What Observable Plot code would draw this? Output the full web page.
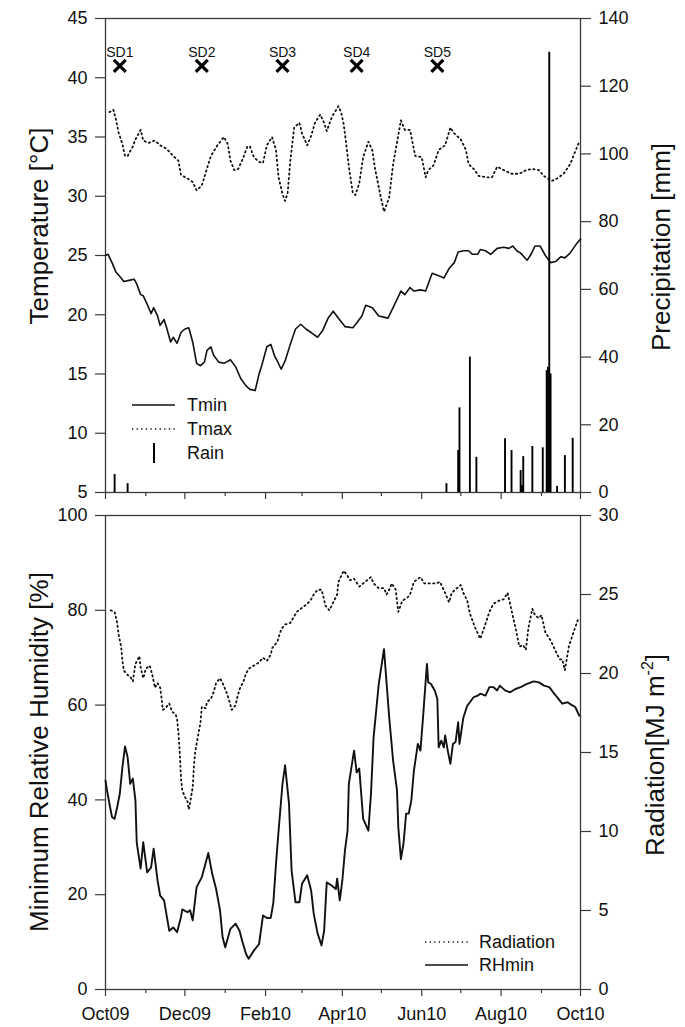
<!DOCTYPE html>
<html><head><meta charset="utf-8">
<script src="https://cdn.jsdelivr.net/npm/d3@7"></script>
<script src="https://cdn.jsdelivr.net/npm/@observablehq/plot@0.6"></script>
<style>
body{margin:0;background:#fff;}
#fig{position:relative;width:685px;height:1027px;background:#fff;}
#fig svg{position:absolute;left:0;}
</style></head><body><div id="fig"></div>
<script>
// ---- data (x = days since 1 Oct 2009) ----
const monthMajor = ["2009-10-01","2009-12-01","2010-02-01","2010-04-01","2010-06-01","2010-08-01","2010-10-01"];
const monthMajorLabels = ["Oct09","Dec09","Feb10","Apr10","Jun10","Aug10","Oct10"];
const monthMinor = ["2009-11-01","2010-01-01","2010-03-01","2010-05-01","2010-07-01","2010-09-01"];
const tempTicks = [5,10,15,20,25,30,35,40,45];
const precipTicks = [0,20,40,60,80,100,120,140];
const rhTicks = [0,20,40,60,80,100];
const radTicks = [0,5,10,15,20,25,30];

const tmax = [[3,37.1],[6,37.3],[8,36.5],[10,35.4],[13,34.4],[15,33.4],[17,33.4],[21,34.2],[23,34.8],[27,35.6],[29,34.7],[33,34.5],[38,34.7],[42,34.3],[47,34.0],[52,33.4],[56,33.0],[58,31.8],[63,31.5],[67,31.2],[70,30.5],[74,30.9],[77,32.0],[81,33.4],[86,34.3],[91,35.0],[94,34.4],[96,33.0],[99,32.2],[102,32.3],[106,33.3],[109,34.2],[111,34.2],[114,33.3],[118,32.9],[121,32.8],[124,34.3],[128,35.0],[131,33.9],[133,31.6],[136,30.2],[138,29.6],[140,30.3],[142,33.0],[145,35.8],[149,36.2],[151,35.3],[155,34.3],[158,35.1],[161,36.2],[165,36.9],[168,36.2],[170,35.5],[174,36.7],[179,37.6],[181,37.1],[183,36.1],[185,34.4],[187,32.5],[190,30.3],[192,30.1],[195,31.1],[198,33.3],[202,34.6],[205,33.9],[207,32.4],[211,30.2],[214,28.7],[218,29.9],[221,32.7],[227,36.4],[230,35.6],[234,35.6],[238,33.4],[243,33.3],[246,31.6],[248,32.2],[252,32.6],[256,33.9],[261,34.3],[265,35.8],[268,35.3],[273,34.8],[277,33.9],[279,32.7],[283,32.3],[287,31.7],[293,31.6],[297,31.6],[301,32.5],[306,32.2],[312,31.9],[318,31.9],[323,32.2],[328,32.3],[333,32.2],[337,31.7],[343,31.3],[347,31.5],[352,31.9],[357,32.7],[364,34.6]];
const tmin = [[0,25.0],[2,25.1],[5,24.4],[8,23.6],[12,23.1],[14,22.8],[18,22.9],[22,23.0],[24,22.6],[27,21.7],[29,21.6],[32,20.9],[35,20.1],[37,20.6],[40,19.9],[42,19.1],[45,19.6],[47,18.9],[50,17.7],[52,18.1],[55,17.6],[58,18.5],[61,18.8],[64,18.9],[67,17.7],[70,15.9],[73,15.7],[76,16.0],[78,17.0],[81,17.3],[83,16.6],[87,16.0],[91,15.9],[96,16.2],[100,15.6],[104,14.6],[108,14.0],[111,13.7],[115,13.6],[118,15.0],[120,15.7],[124,17.3],[127,17.5],[130,16.5],[132,16.1],[135,15.4],[138,16.1],[142,17.5],[146,18.8],[150,19.2],[154,18.8],[158,18.5],[163,18.1],[167,18.7],[171,19.7],[175,20.3],[179,19.7],[184,19.0],[190,18.9],[193,19.3],[197,19.9],[200,20.8],[205,20.6],[210,19.9],[214,19.8],[217,19.7],[221,20.6],[227,22.0],[230,21.7],[234,22.3],[237,22.0],[242,22.1],[246,22.0],[251,23.5],[256,23.3],[260,23.1],[264,23.9],[268,24.4],[271,25.3],[275,25.4],[279,25.4],[282,25.1],[286,25.1],[288,25.5],[292,25.4],[296,25.1],[301,25.6],[306,25.7],[310,25.6],[313,25.8],[316,25.4],[319,25.2],[324,24.6],[327,25.1],[330,25.8],[334,25.8],[338,25.0],[342,24.4],[346,24.5],[350,24.9],[353,24.8],[357,25.2],[362,26.0],[365,26.4]];
const rain = [[7,5.3],[17,2.6],[262,2.6],[271,12.4],[272,25],[280,40],[285,10.4],[307,15.9],[312,12.4],[319,6.5],[320,2],[321,10.6],[328,13.6],[336,13.2],[339,36],[340,37],[341,130],[342,35],[347,1.8],[353,10.9],[359,16]];
const sowing = [["SD1",11],["SD2",74],["SD3",136],["SD4",193],["SD5",255]];
const sowingLevel = 41;
const radiation = [[4,24.0],[7,23.9],[9,23.2],[10,22.5],[12,21.7],[13,20.8],[14,20.2],[17,19.9],[19,19.8],[21,19.5],[23,20.6],[26,21.1],[27,20.4],[29,19.7],[31,20.3],[34,20.5],[36,19.9],[38,19.1],[40,19.4],[42,19.1],[43,18.5],[44,17.7],[46,17.8],[49,18.1],[51,17.6],[54,17.4],[55,17.1],[56,16.3],[57,15.1],[58,13.4],[59,12.6],[61,12.2],[63,11.9],[64,11.4],[65,11.8],[67,12.8],[68,14.2],[69,15.1],[71,16.0],[73,16.9],[74,17.9],[77,17.8],[78,18.2],[81,18.4],[83,18.8],[85,19.4],[88,19.7],[90,19.4],[93,18.8],[95,18.3],[97,17.7],[100,18.0],[101,18.4],[103,19.0],[106,19.5],[108,20.0],[110,20.3],[114,20.5],[118,20.7],[121,21.0],[124,20.8],[127,21.2],[128,21.6],[132,22.0],[135,22.8],[138,23.1],[142,23.2],[147,23.9],[150,24.1],[155,24.4],[158,24.7],[160,25.0],[163,25.3],[166,25.3],[167,25.0],[169,24.3],[172,24.0],[175,24.5],[178,25.0],[179,25.8],[183,26.5],[185,26.3],[188,25.9],[191,26.0],[195,25.5],[198,25.7],[201,25.9],[204,26.1],[206,25.7],[210,25.4],[214,25.4],[216,25.0],[218,25.3],[220,25.7],[223,25.3],[225,23.9],[228,24.6],[232,24.8],[234,25.0],[237,25.8],[242,26.1],[245,25.7],[248,25.7],[254,25.7],[257,25.8],[261,25.1],[264,24.5],[266,25.1],[270,25.4],[273,25.6],[275,25.1],[278,24.6],[280,23.8],[284,22.9],[288,22.2],[291,22.9],[295,23.9],[298,24.4],[302,24.6],[306,24.7],[309,25.1],[312,24.0],[315,22.9],[318,21.7],[321,21.8],[323,21.5],[325,22.9],[328,24.1],[330,23.7],[333,23.5],[335,23.7],[338,22.6],[342,22.1],[346,21.4],[349,20.9],[351,20.9],[353,20.2],[356,21.7],[360,22.7],[363,23.4]];
const rhmin = [[0,44.1],[1,42.3],[3,39.2],[5,36.4],[7,36.0],[9,38.5],[11,41.3],[13,46.9],[15,51.3],[17,49.0],[19,43.4],[21,44.5],[23,39.9],[24,31.0],[27,25.5],[29,31.1],[32,24.7],[35,25.7],[37,29.7],[40,23.0],[42,19.8],[45,18.8],[47,15.6],[49,12.4],[52,13.1],[55,12.1],[58,15.3],[59,16.9],[63,16.3],[65,16.7],[67,14.6],[70,21.6],[74,23.7],[79,28.8],[82,24.4],[85,21.2],[88,16.7],[90,11.0],[92,8.9],[96,12.8],[100,13.9],[103,12.4],[105,10.3],[108,7.5],[110,6.5],[114,8.2],[118,9.6],[121,15.6],[124,15.1],[127,15.1],[129,18.4],[131,26.5],[133,33.5],[136,43.4],[138,47.3],[141,39.2],[143,25.1],[146,18.4],[149,18.4],[151,22.3],[155,24.1],[158,20.9],[160,16.0],[163,11.8],[166,9.3],[168,12.4],[170,22.6],[174,21.9],[177,21.2],[178,23.4],[180,18.8],[182,23.0],[184,29.3],[186,33.5],[187,43.4],[191,50.4],[193,45.8],[195,46.6],[198,36.0],[202,33.5],[204,41.3],[206,53.2],[210,64.5],[214,71.8],[218,57.4],[221,48.3],[224,42.0],[225,34.2],[227,27.5],[229,30.8],[231,37.1],[233,37.1],[235,39.9],[237,46.2],[240,51.8],[242,50.4],[244,57.4],[247,68.7],[248,64.8],[250,64.5],[253,63.1],[255,61.3],[256,51.1],[258,52.5],[260,51.1],[261,53.6],[263,50.4],[265,47.6],[267,51.8],[269,52.2],[271,56.4],[272,51.8],[275,57.4],[278,59.9],[280,60.6],[283,61.7],[286,62.0],[288,62.4],[292,62.0],[295,63.8],[298,63.8],[301,63.1],[303,64.1],[307,63.1],[311,62.7],[315,63.4],[319,63.8],[324,64.5],[329,65.0],[333,64.8],[337,64.1],[341,63.8],[344,62.7],[347,61.7],[351,60.3],[355,60.6],[359,59.9],[361,59.6],[364,57.8]];

// ---- helpers ----
const T0 = Date.UTC(2009, 9, 1);
const toDate = d => new Date(T0 + d * 864e5);
const rows = arr => arr.map(([d, v]) => ({date: toDate(d), value: v}));
const majorDates = monthMajor.map(s => new Date(s + "T00:00:00Z"));
const minorDates = monthMinor.map(s => new Date(s + "T00:00:00Z"));
const labelOf = new Map(majorDates.map((d, i) => [+d, monthMajorLabels[i]]));
const xDomain = [toDate(0), toDate(365)];

const FONT = "'Liberation Sans', Arial, Helvetica, sans-serif";
const AX = "#3a3a3a", INK = "#111";
const W = 685, ML = 105, MR = 105;
const DOT = "1.3,3.3";

function xAxes(labels) {
  return [
    Plot.axisX(minorDates, {tickSize: 4, tickFormat: () => "", color: AX, strokeWidth: 1.2}),
    Plot.axisX(majorDates, {tickSize: 7, tickPadding: 11, fontSize: 18,
      tickFormat: labels ? d => labelOf.get(+d) : () => "", color: INK, stroke: AX, strokeWidth: 1.2})
  ];
}
function base(h, mt, mb, ydom) {
  return {width: W, height: h, marginLeft: ML, marginRight: MR, marginTop: mt, marginBottom: mb,
    style: {fontFamily: FONT, fontSize: "18px", background: "transparent", color: INK, overflow: "visible"},
    x: {type: "utc", domain: xDomain, axis: null}, y: {domain: ydom, axis: null}};
}
const yAxis = (ticks, anchor) => Plot.axisY(ticks, {anchor, tickSize: 10, tickPadding: 8, fontSize: 18,
  label: null, color: INK, stroke: AX, strokeWidth: 1.2});

// ---- top panel ----
const topA = Plot.plot({...base(500, 18, 8, [5, 45]), marks: [
  Plot.frame({stroke: AX, strokeWidth: 1.3}),
  yAxis(tempTicks, "left"),
  ...xAxes(false),
  Plot.line(rows(tmax), {x: "date", y: "value", stroke: INK, strokeWidth: 1.8, strokeDasharray: DOT}),
  Plot.line(rows(tmin), {x: "date", y: "value", stroke: INK, strokeWidth: 1.6}),
  Plot.dot(sowing, {x: d => toDate(d[1]), y: () => sowingLevel, symbol: "times", r: 5.5, stroke: "#000", strokeWidth: 3.2}),
  Plot.text(sowing, {x: d => toDate(d[1]), y: () => sowingLevel, text: d => d[0], dy: -13, fontSize: 14, fill: INK})
]});
const topB = Plot.plot({...base(500, 18, 8, [0, 140]), marks: [
  yAxis(precipTicks, "right"),
  Plot.ruleX(rows(rain), {x: "date", y1: 0, y2: "value", stroke: "#000", strokeWidth: 1.9})
]});

// ---- bottom panel ----
const botA = Plot.plot({...base(527, 15, 38, [0, 100]), marks: [
  Plot.frame({stroke: AX, strokeWidth: 1.3}),
  yAxis(rhTicks, "left"),
  ...xAxes(true),
  Plot.line(rows(rhmin), {x: "date", y: "value", stroke: INK, strokeWidth: 1.9})
]});
const botB = Plot.plot({...base(527, 15, 38, [0, 30]), marks: [
  yAxis(radTicks, "right"),
  Plot.line(rows(radiation), {x: "date", y: "value", stroke: INK, strokeWidth: 1.8, strokeDasharray: DOT})
]});

const fig = document.getElementById("fig");
[[topA, 0], [topB, 0], [botA, 500], [botB, 500]].forEach(([s, t]) => { s.style.top = t + "px"; fig.appendChild(s); });

// ---- axis titles ----
function title(svg, x, y, parts) {
  const t = d3.select(svg).append("text")
    .attr("transform", `translate(${x},${y}) rotate(-90)`)
    .attr("text-anchor", "middle").attr("font-size", 26).attr("fill", INK).attr("font-family", FONT);
  parts.forEach(p => {
    const s = t.append("tspan").text(p.t);
    if (p.sup) s.attr("font-size", 16).attr("dy", -11);
    if (p.down) s.attr("dy", 11);
  });
}
title(topB, 48, 226, [{t: "Temperature [°C]"}]);
title(topB, 670, 247, [{t: "Precipitation [mm]"}]);
title(botB, 48, 252, [{t: "Minimum Relative Humidity [%]"}]);
title(botB, 664, 255, [{t: "Radiation[MJ m"}, {t: "-2", sup: true}, {t: "]", down: true}]);

// ---- legends ----
function legend(svg, items) {
  const g = d3.select(svg).append("g").attr("font-family", FONT).attr("font-size", 18)
    .attr("fill", INK).attr("text-anchor", "start");
  items.forEach(it => {
    if (it.kind === "bar") {
      g.append("line").attr("x1", it.x1 + 22).attr("x2", it.x1 + 22).attr("y1", it.y - 10).attr("y2", it.y + 10)
        .attr("stroke", "#000").attr("stroke-width", 2);
    } else {
      g.append("line").attr("x1", it.x1).attr("x2", it.x2).attr("y1", it.y).attr("y2", it.y)
        .attr("stroke", INK).attr("stroke-width", 1.7)
        .attr("stroke-dasharray", it.kind === "dot" ? DOT : null);
    }
    g.append("text").attr("x", it.tx).attr("y", it.y).attr("dy", "0.36em").attr("text-anchor", "start").text(it.label);
  });
}
legend(topB, [
  {kind: "solid", x1: 132, x2: 175, y: 405, tx: 187, label: "Tmin"},
  {kind: "dot", x1: 132, x2: 175, y: 429, tx: 187, label: "Tmax"},
  {kind: "bar", x1: 132, y: 453, tx: 187, label: "Rain"}
]);
legend(botB, [
  {kind: "dot", x1: 425, x2: 468, y: 442, tx: 479, label: "Radiation"},
  {kind: "solid", x1: 425, x2: 468, y: 465, tx: 479, label: "RHmin"}
]);
</script></body></html>
